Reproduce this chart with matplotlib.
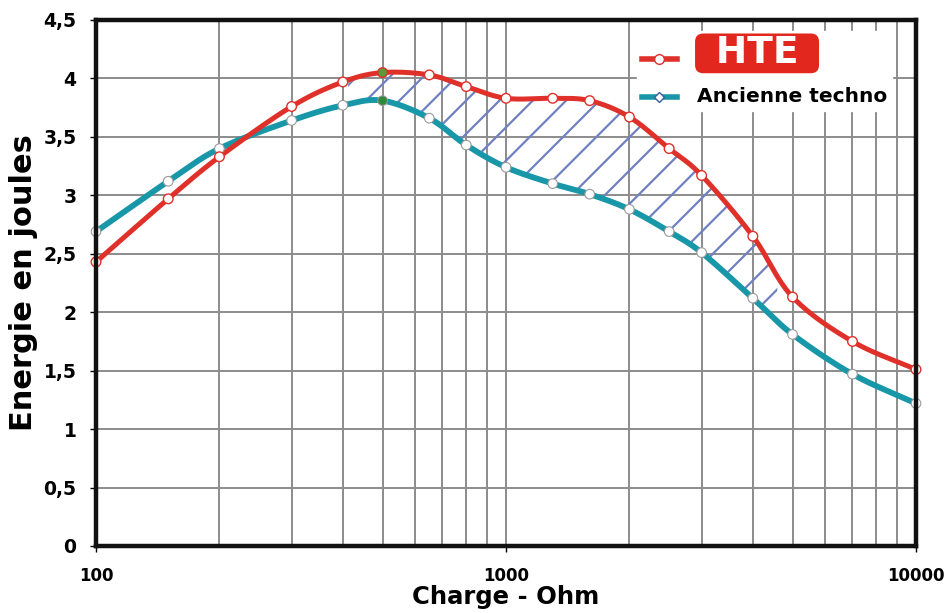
import numpy as np
import matplotlib
matplotlib.use("Agg")
import matplotlib.pyplot as plt
from matplotlib.lines import Line2D
from matplotlib.ticker import FixedLocator, NullFormatter

plt.rcParams['font.family'] = ['DejaVu Sans']
plt.rcParams['hatch.linewidth'] = 1.6

# values
charge = [100, 150, 200, 300, 400, 500, 650, 800, 1000, 1300, 1600, 2000, 2500, 3000, 4000, 5000, 7000, 10000]
hte = [2.43, 2.97, 3.33, 3.76, 3.97, 4.05, 4.03, 3.93, 3.83, 3.83, 3.81, 3.67, 3.40, 3.17, 2.65, 2.13, 1.75, 1.51]
ancienne = [2.69, 3.12, 3.40, 3.64, 3.77, 3.81, 3.66, 3.43, 3.24, 3.10, 3.01, 2.88, 2.69, 2.51, 2.12, 1.81, 1.47, 1.22]
zone = (410, 4600)   # hatched gap between the two curves

RED = '#e0302a'
TEAL = '#1797a8'
GRID = '#8c8c8c'


def smooth(x, y, n=25):
    # catmull-rom through the points, in log-x space, only for drawing
    lx = np.log10(x)
    y = np.asarray(y, float)
    P = np.column_stack([lx, y])
    P = np.vstack([2 * P[0] - P[1], P, 2 * P[-1] - P[-2]])
    out = []
    for i in range(1, len(P) - 2):
        p0, p1, p2, p3 = P[i - 1], P[i], P[i + 1], P[i + 2]
        t = np.linspace(0, 1, n, endpoint=False)[:, None]
        seg = 0.5 * ((2 * p1) + (-p0 + p2) * t + (2 * p0 - 5 * p1 + 4 * p2 - p3) * t ** 2
                     + (-p0 + 3 * p1 - 3 * p2 + p3) * t ** 3)
        out.append(seg)
    out.append(P[-2][None, :])
    out = np.vstack(out)
    return 10 ** out[:, 0], out[:, 1]


fig = plt.figure(figsize=(9.45, 6.13), dpi=100)
ax = fig.add_axes([0.1016, 0.1093, 0.8677, 0.8581])
ax.set_xscale('log')
ax.set_xlim(100, 10000)
ax.set_ylim(0, 4.5)

xs, ys_h = smooth(charge, hte)
_, ys_a = smooth(charge, ancienne)

mask = (xs >= zone[0]) & (xs <= zone[1])
ax.fill_between(xs, ys_a, ys_h, where=mask, facecolor='none', edgecolor='#7080c0',
                hatch='/', linewidth=0, zorder=2)

ax.plot(xs, ys_a, color=TEAL, lw=4.2, solid_capstyle='round', zorder=3)
ax.plot(xs, ys_h, color=RED, lw=3.6, solid_capstyle='round', zorder=4)

fc_a = ['#2e8b3a' if c == 500 else 'white' for c in charge]
fc_h = ['#5a9a3a' if c == 500 else 'white' for c in charge]
ax.scatter(charge, ancienne, s=48, facecolors=fc_a, edgecolors='#9a9a9a', linewidths=0.8, zorder=5, clip_on=False)
ax.scatter(charge, hte, s=48, facecolors=fc_h, edgecolors=RED, linewidths=1.0, zorder=6, clip_on=False)

# grid
ax.xaxis.set_minor_locator(FixedLocator([k * 10 ** d for d in (2, 3) for k in range(2, 10)]))
ax.xaxis.set_minor_formatter(NullFormatter())
ax.set_xticks([100, 1000, 10000])
ax.set_xticklabels(['100', '1000', '10000'])
yt = np.arange(0, 4.51, 0.5)
ax.set_yticks(yt)
ax.set_yticklabels([('%g' % v).replace('.', ',') for v in yt])
ax.grid(True, which='both', axis='x', color=GRID, lw=1.4, zorder=1)
ax.grid(True, which='major', axis='y', color=GRID, lw=1.4, zorder=1)
ax.set_axisbelow(True)

for s in ax.spines.values():
    s.set_linewidth(3.2)
    s.set_color('#111111')
    s.set_zorder(7)

ax.tick_params(axis='y', which='major', length=4, width=1, labelsize=13.5, pad=10, direction='out')
ax.tick_params(axis='x', which='major', length=4, width=1, labelsize=12, pad=11, direction='out')
ax.tick_params(axis='x', which='minor', length=0)
for lab in ax.get_xticklabels() + ax.get_yticklabels():
    lab.set_fontweight('bold')

ax.set_xlabel('Charge - Ohm', fontsize=17.5, fontweight='bold', labelpad=0)
ax.set_ylabel('Energie en joules', fontsize=22, fontweight='bold', labelpad=4)

handles = [
    Line2D([], [], color=RED, lw=4, marker='o', ms=7, mfc='white', mec=RED),
    Line2D([], [], color=TEAL, lw=4, marker='D', ms=5, mfc='white', mec='#3a5aa0'),
]
leg = ax.legend(handles, ['\u2002HTE\u2002', 'Ancienne techno'], loc='upper left',
                bbox_to_anchor=(0.66, 0.98), frameon=True, fancybox=False, framealpha=1,
                edgecolor='white', facecolor='white', handlelength=2.5, handletextpad=1.45,
                labelspacing=1.15, borderpad=0.35, borderaxespad=0.0)
leg.set_zorder(8)
t0, t1 = leg.get_texts()
t0.set_color('white')
t0.set_fontsize(27)
t0.set_fontweight('heavy')
t0.set_bbox(dict(boxstyle='round,pad=0.05,rounding_size=0.22', fc='#e2281e', ec='none'))
t1.set_fontsize(14.5)
t1.set_fontweight('bold')

fig.savefig('out.png', dpi=100)
